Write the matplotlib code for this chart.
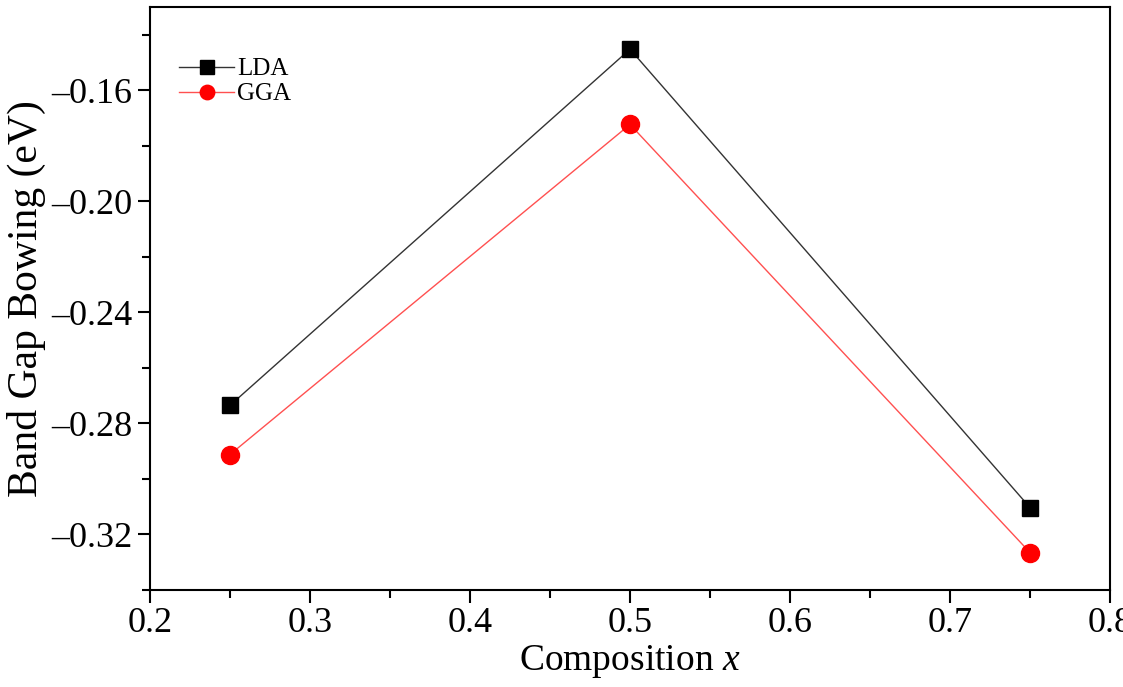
import matplotlib
matplotlib.use('Agg')
import matplotlib.pyplot as plt
from matplotlib.ticker import MultipleLocator, FuncFormatter

plt.rcParams['font.family'] = ['Liberation Serif', 'DejaVu Serif']
plt.rcParams['mathtext.fontset'] = 'custom'
plt.rcParams['mathtext.it'] = 'Liberation Serif:italic'
plt.rcParams['mathtext.rm'] = 'Liberation Serif'

# composition and band gap bowing (eV)
composition = [0.25, 0.5, 0.75]
lda = [-0.2735, -0.1452, -0.3103]
gga = [-0.2912, -0.1723, -0.3265]

fig = plt.figure(figsize=(11.23, 6.87), dpi=100)
ax = fig.add_axes([0.1336, 0.1412, 0.9884 - 0.1336, 0.9898 - 0.1412])

ax.plot(composition, lda, color='#333333', lw=1.0, marker='s', ms=12,
        mfc='black', mec='black', label='LDA')
ax.plot(composition, gga, color='#ff5050', lw=1.0, marker='o', ms=13,
        mfc='red', mec='red', label='GGA')

ax.set_xlim(0.2, 0.8)
ax.set_ylim(-0.34, -0.13)
ax.xaxis.set_major_locator(MultipleLocator(0.1))
ax.xaxis.set_minor_locator(MultipleLocator(0.05))
ax.yaxis.set_major_locator(MultipleLocator(0.04))
ax.yaxis.set_minor_locator(MultipleLocator(0.02))
ax.xaxis.set_major_formatter(FuncFormatter(lambda v, p: '%.1f' % v))
ax.yaxis.set_major_formatter(
    FuncFormatter(lambda v, p: ('%.2f' % v).replace('-', '\u2013')))

ax.tick_params(which='both', direction='out', top=False, right=False,
               width=1.5, labelsize=26)
ax.tick_params(which='major', length=9)
ax.tick_params(which='minor', length=6)
for s in ax.spines.values():
    s.set_linewidth(1.5)

ax.set_xlabel('Composition $\\mathit{x}$', fontsize=27, labelpad=2)
ax.set_ylabel('Band Gap Bowing (eV)', fontsize=30, labelpad=4)

ax.legend(loc='upper left', bbox_to_anchor=(0.02, 0.93), frameon=False,
          fontsize=18, handlelength=2.2, handletextpad=0.1,
          labelspacing=0.1, markerscale=0.8, borderaxespad=0)

fig.savefig('out.png', dpi=100)
